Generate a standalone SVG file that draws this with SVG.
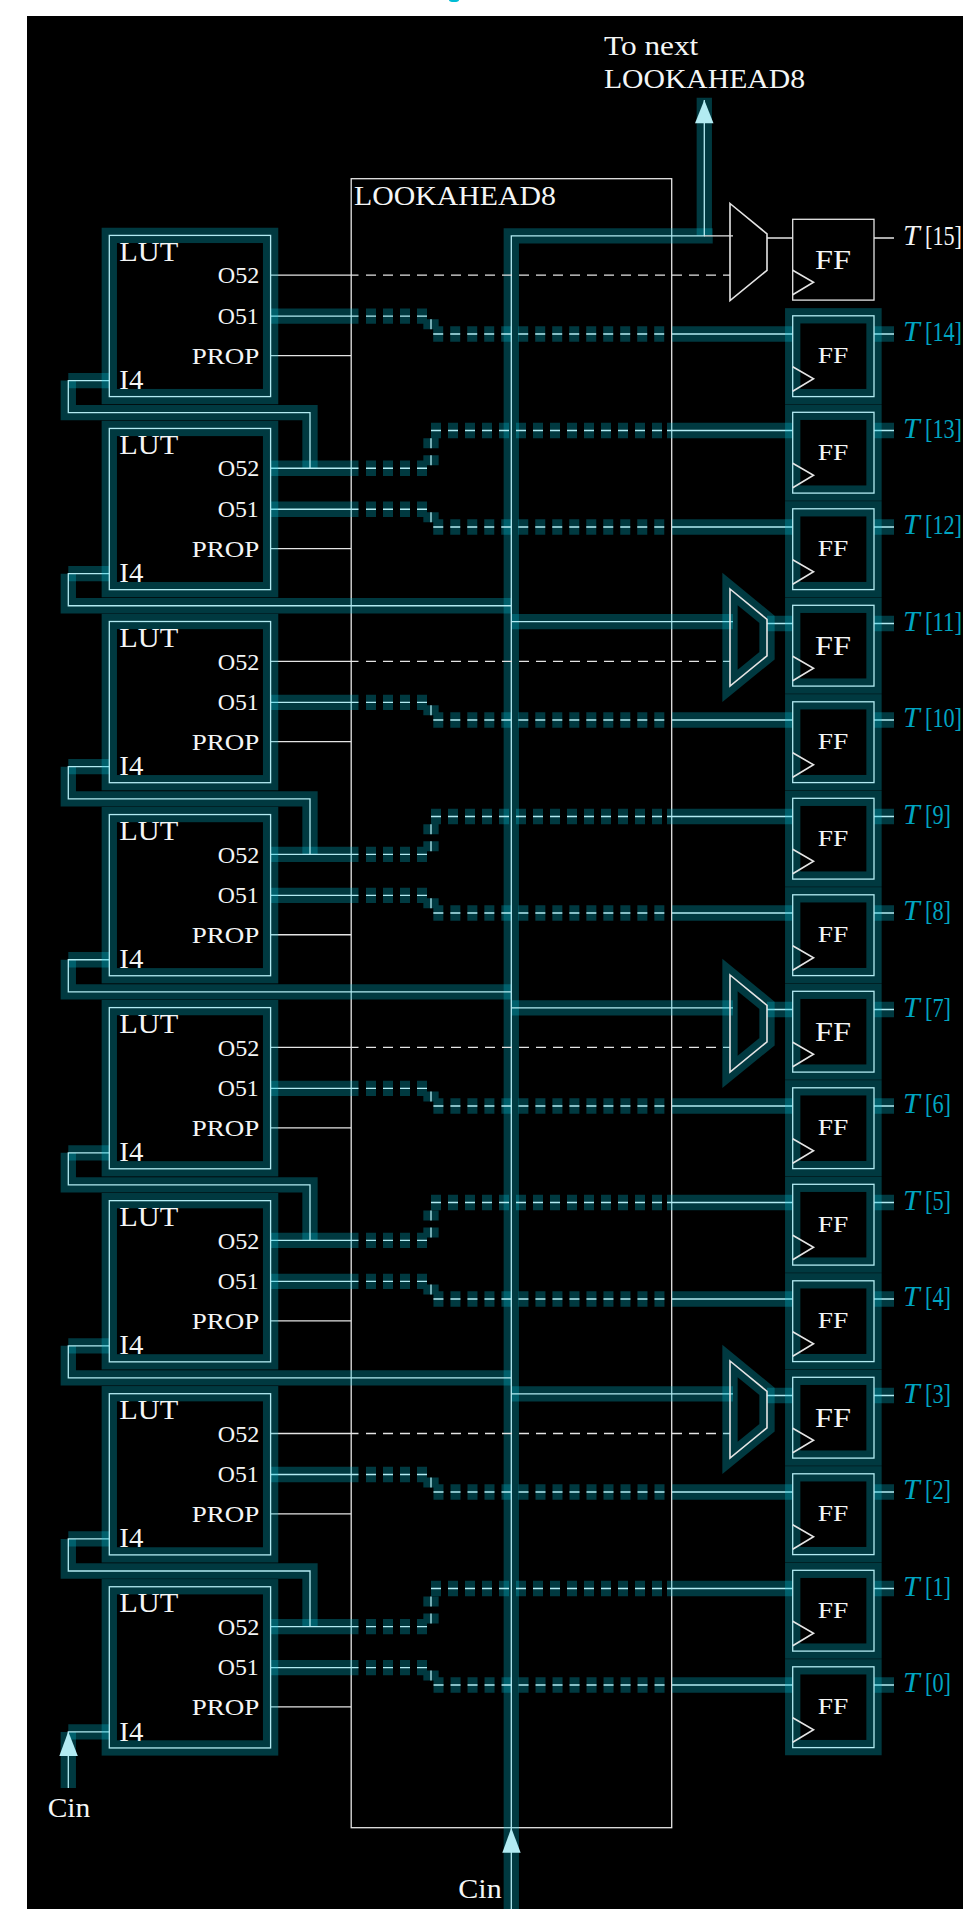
<svg xmlns="http://www.w3.org/2000/svg" width="963" height="1909" viewBox="0 0 963 1909">
<style>
text{font-family:"Liberation Serif","Times New Roman",serif;fill:#f4f6f6;font-size:28px}
.s{font-size:24px}
.c{fill:#00a5c2}
.i{font-style:italic;font-size:30px}
.g{fill:none;stroke:#00bcd4;stroke-opacity:.3;stroke-width:15.3;stroke-linejoin:miter;stroke-miterlimit:10}
.l{fill:none;stroke:#b2ebf2;stroke-width:1.3;stroke-linejoin:miter}
.d{stroke-dasharray:10 7}
.w{fill:none;stroke:#e4e4e4;stroke-width:1.3;stroke-linejoin:miter;stroke-miterlimit:10}
.m{fill:none;stroke:#e4e4e4;stroke-width:1.6;stroke-miterlimit:10}
.a{fill:#b2ebf2;stroke:none}
</style>
<rect x="27" y="16" width="936" height="1893" fill="#000"/>
<ellipse cx="454" cy="0" rx="5" ry="2" fill="#00bcd4"/>

<g id="lookahead">
<rect class="w" x="351.2" y="178.7" width="320.5" height="1649"/>
<text x="354" y="205" textLength="202" lengthAdjust="spacingAndGlyphs">LOOKAHEAD8</text>
</g>

<g id="connectors">
<g id="glow">
<path class="g" d="M511.3,1909V235.8H712.7"/>
<path class="g" d="M704.3,235.8V97.7"/>
<path class="g" d="M109.3,380.6H68.3"/><path class="g" d="M68.3,380.6V412.7H310V468.25"/>
<path class="g" d="M109.3,573.65H68.3"/><path class="g" d="M68.3,573.65V605.75H511"/>
<path class="g" d="M109.3,766.7H68.3"/><path class="g" d="M68.3,766.7V798.8H310V854.35"/>
<path class="g" d="M109.3,959.75H68.3"/><path class="g" d="M68.3,959.75V991.85H511"/>
<path class="g" d="M109.3,1152.8H68.3"/><path class="g" d="M68.3,1152.8V1184.9H310V1240.45"/>
<path class="g" d="M109.3,1345.85H68.3"/><path class="g" d="M68.3,1345.85V1377.95H511"/>
<path class="g" d="M109.3,1538.9H68.3"/><path class="g" d="M68.3,1538.9V1571H310V1626.55"/>
<path class="g" d="M109.3,1731.95H68.3"/><path class="g" d="M68.3,1731.95V1788"/>
<path class="g" d="M511,621.7H733M511,1007.85H733M511,1393.95H733"/>
<path class="g" d="M767,623.5H792.7M767,1009.5H792.7M767,1395.5H792.7"/>
<path class="g" d="M270.6,316.2H358.5M672,334H792.7M874,334H894"/>
<path class="g d" d="M366,316.2H431V334H665"/>
<path class="g" d="M270.6,509.25H358.5M672,527H792.7M874,527H894"/>
<path class="g d" d="M366,509.25H431V527H665"/>
<path class="g" d="M270.6,702.3H358.5M672,720H792.7M874,720H894"/>
<path class="g d" d="M366,702.3H431V720H665"/>
<path class="g" d="M270.6,895.35H358.5M672,913H792.7M874,913H894"/>
<path class="g d" d="M366,895.35H431V913H665"/>
<path class="g" d="M270.6,1088.4H358.5M672,1106H792.7M874,1106H894"/>
<path class="g d" d="M366,1088.4H431V1106H665"/>
<path class="g" d="M270.6,1281.45H358.5M672,1299H792.7M874,1299H894"/>
<path class="g d" d="M366,1281.45H431V1299H665"/>
<path class="g" d="M270.6,1474.5H358.5M672,1492H792.7M874,1492H894"/>
<path class="g d" d="M366,1474.5H431V1492H665"/>
<path class="g" d="M270.6,1667.55H358.5M672,1685H792.7M874,1685H894"/>
<path class="g d" d="M366,1667.55H431V1685H665"/>
<path class="g" d="M270.6,468.25H358.5M667,430.5H792.7M874,430.5H894"/>
<path class="g d" d="M366,468.25H431V433.5M431,430.5H662"/>
<path class="g" d="M270.6,854.35H358.5M667,816.5H792.7M874,816.5H894"/>
<path class="g d" d="M366,854.35H431V819.5M431,816.5H662"/>
<path class="g" d="M270.6,1240.45H358.5M667,1202.5H792.7M874,1202.5H894"/>
<path class="g d" d="M366,1240.45H431V1205.5M431,1202.5H662"/>
<path class="g" d="M270.6,1626.55H358.5M667,1588.5H792.7M874,1588.5H894"/>
<path class="g d" d="M366,1626.55H431V1591.5M431,1588.5H662"/>
<path class="g" d="M874,623.5H894M874,1009.5H894M874,1395.5H894"/>
</g>
<g id="thin">
<path class="l" d="M511.3,1909V235.8H704.3V100"/>
<path class="l" d="M109.3,380.6H68.3V412.7H310V468.25"/>
<path class="l" d="M109.3,573.65H68.3V605.75H511"/>
<path class="l" d="M109.3,766.7H68.3V798.8H310V854.35"/>
<path class="l" d="M109.3,959.75H68.3V991.85H511"/>
<path class="l" d="M109.3,1152.8H68.3V1184.9H310V1240.45"/>
<path class="l" d="M109.3,1345.85H68.3V1377.95H511"/>
<path class="l" d="M109.3,1538.9H68.3V1571H310V1626.55"/>
<path class="l" d="M109.3,1731.95H68.3V1788"/>
<path class="l" d="M511,621.7H733M511,1007.85H733M511,1393.95H733"/>
<path class="l" d="M767,623.5H792.7M767,1009.5H792.7M767,1395.5H792.7"/>
<path class="l" d="M270.6,316.2H358.5M672,334H792.7M874,334H894"/>
<path class="l d" d="M366,316.2H431V334H665"/>
<path class="l" d="M270.6,509.25H358.5M672,527H792.7M874,527H894"/>
<path class="l d" d="M366,509.25H431V527H665"/>
<path class="l" d="M270.6,702.3H358.5M672,720H792.7M874,720H894"/>
<path class="l d" d="M366,702.3H431V720H665"/>
<path class="l" d="M270.6,895.35H358.5M672,913H792.7M874,913H894"/>
<path class="l d" d="M366,895.35H431V913H665"/>
<path class="l" d="M270.6,1088.4H358.5M672,1106H792.7M874,1106H894"/>
<path class="l d" d="M366,1088.4H431V1106H665"/>
<path class="l" d="M270.6,1281.45H358.5M672,1299H792.7M874,1299H894"/>
<path class="l d" d="M366,1281.45H431V1299H665"/>
<path class="l" d="M270.6,1474.5H358.5M672,1492H792.7M874,1492H894"/>
<path class="l d" d="M366,1474.5H431V1492H665"/>
<path class="l" d="M270.6,1667.55H358.5M672,1685H792.7M874,1685H894"/>
<path class="l d" d="M366,1667.55H431V1685H665"/>
<path class="l" d="M270.6,468.25H358.5M667,430.5H792.7M874,430.5H894"/>
<path class="l d" d="M366,468.25H431V433.5M431,430.5H662"/>
<path class="l" d="M270.6,854.35H358.5M667,816.5H792.7M874,816.5H894"/>
<path class="l d" d="M366,854.35H431V819.5M431,816.5H662"/>
<path class="l" d="M270.6,1240.45H358.5M667,1202.5H792.7M874,1202.5H894"/>
<path class="l d" d="M366,1240.45H431V1205.5M431,1202.5H662"/>
<path class="l" d="M270.6,1626.55H358.5M667,1588.5H792.7M874,1588.5H894"/>
<path class="l d" d="M366,1626.55H431V1591.5M431,1588.5H662"/>
<path class="l" d="M874,623.5H894M874,1009.5H894M874,1395.5H894"/>
</g>
<g id="plain">
<path class="w" d="M704.3,235.8H733M767,238H792.7M874,238H894"/>
<path class="w" d="M270.6,355.6H351M270.6,548.65H351M270.6,741.7H351M270.6,934.75H351M270.6,1127.8H351M270.6,1320.85H351M270.6,1513.9H351M270.6,1706.95H351"/>
<path class="w" d="M270.6,275.2H358.5M270.6,661.3H358.5M270.6,1047.4H358.5M270.6,1433.5H358.5"/>
<path class="w d" d="M366,275.2H730M366,661.3H730M366,1047.4H730M366,1433.5H730"/>
</g>
<polygon class="a" points="704.3,100 713.5,123.3 695,123.3"/>
<polygon class="a" points="68.3,1731.5 77.8,1756 59.3,1756"/>
<polygon class="a" points="511.3,1828 520.7,1852.7 502.3,1852.7"/>
</g>

<g id="lut0" transform="translate(109.3,235.4)"><rect class="g" width="161.3" height="161.2"/><rect class="l" width="161.3" height="161.2"/><text x="10" y="25.6" textLength="59" lengthAdjust="spacingAndGlyphs">LUT</text><text class="s" x="108.4" y="48" textLength="41.6" lengthAdjust="spacingAndGlyphs">O52</text><text class="s" x="108.4" y="88.6" textLength="41" lengthAdjust="spacingAndGlyphs">O51</text><text class="s" x="82.4" y="128.2" textLength="67.6" lengthAdjust="spacingAndGlyphs">PROP</text><text x="10" y="153.8" textLength="24" lengthAdjust="spacingAndGlyphs">I4</text></g>
<g id="lut1" transform="translate(109.3,428.45)"><rect class="g" width="161.3" height="161.2"/><rect class="l" width="161.3" height="161.2"/><text x="10" y="25.6" textLength="59" lengthAdjust="spacingAndGlyphs">LUT</text><text class="s" x="108.4" y="48" textLength="41.6" lengthAdjust="spacingAndGlyphs">O52</text><text class="s" x="108.4" y="88.6" textLength="41" lengthAdjust="spacingAndGlyphs">O51</text><text class="s" x="82.4" y="128.2" textLength="67.6" lengthAdjust="spacingAndGlyphs">PROP</text><text x="10" y="153.8" textLength="24" lengthAdjust="spacingAndGlyphs">I4</text></g>
<g id="lut2" transform="translate(109.3,621.5)"><rect class="g" width="161.3" height="161.2"/><rect class="l" width="161.3" height="161.2"/><text x="10" y="25.6" textLength="59" lengthAdjust="spacingAndGlyphs">LUT</text><text class="s" x="108.4" y="48" textLength="41.6" lengthAdjust="spacingAndGlyphs">O52</text><text class="s" x="108.4" y="88.6" textLength="41" lengthAdjust="spacingAndGlyphs">O51</text><text class="s" x="82.4" y="128.2" textLength="67.6" lengthAdjust="spacingAndGlyphs">PROP</text><text x="10" y="153.8" textLength="24" lengthAdjust="spacingAndGlyphs">I4</text></g>
<g id="lut3" transform="translate(109.3,814.55)"><rect class="g" width="161.3" height="161.2"/><rect class="l" width="161.3" height="161.2"/><text x="10" y="25.6" textLength="59" lengthAdjust="spacingAndGlyphs">LUT</text><text class="s" x="108.4" y="48" textLength="41.6" lengthAdjust="spacingAndGlyphs">O52</text><text class="s" x="108.4" y="88.6" textLength="41" lengthAdjust="spacingAndGlyphs">O51</text><text class="s" x="82.4" y="128.2" textLength="67.6" lengthAdjust="spacingAndGlyphs">PROP</text><text x="10" y="153.8" textLength="24" lengthAdjust="spacingAndGlyphs">I4</text></g>
<g id="lut4" transform="translate(109.3,1007.6)"><rect class="g" width="161.3" height="161.2"/><rect class="l" width="161.3" height="161.2"/><text x="10" y="25.6" textLength="59" lengthAdjust="spacingAndGlyphs">LUT</text><text class="s" x="108.4" y="48" textLength="41.6" lengthAdjust="spacingAndGlyphs">O52</text><text class="s" x="108.4" y="88.6" textLength="41" lengthAdjust="spacingAndGlyphs">O51</text><text class="s" x="82.4" y="128.2" textLength="67.6" lengthAdjust="spacingAndGlyphs">PROP</text><text x="10" y="153.8" textLength="24" lengthAdjust="spacingAndGlyphs">I4</text></g>
<g id="lut5" transform="translate(109.3,1200.65)"><rect class="g" width="161.3" height="161.2"/><rect class="l" width="161.3" height="161.2"/><text x="10" y="25.6" textLength="59" lengthAdjust="spacingAndGlyphs">LUT</text><text class="s" x="108.4" y="48" textLength="41.6" lengthAdjust="spacingAndGlyphs">O52</text><text class="s" x="108.4" y="88.6" textLength="41" lengthAdjust="spacingAndGlyphs">O51</text><text class="s" x="82.4" y="128.2" textLength="67.6" lengthAdjust="spacingAndGlyphs">PROP</text><text x="10" y="153.8" textLength="24" lengthAdjust="spacingAndGlyphs">I4</text></g>
<g id="lut6" transform="translate(109.3,1393.7)"><rect class="g" width="161.3" height="161.2"/><rect class="l" width="161.3" height="161.2"/><text x="10" y="25.6" textLength="59" lengthAdjust="spacingAndGlyphs">LUT</text><text class="s" x="108.4" y="48" textLength="41.6" lengthAdjust="spacingAndGlyphs">O52</text><text class="s" x="108.4" y="88.6" textLength="41" lengthAdjust="spacingAndGlyphs">O51</text><text class="s" x="82.4" y="128.2" textLength="67.6" lengthAdjust="spacingAndGlyphs">PROP</text><text x="10" y="153.8" textLength="24" lengthAdjust="spacingAndGlyphs">I4</text></g>
<g id="lut7" transform="translate(109.3,1586.75)"><rect class="g" width="161.3" height="161.2"/><rect class="l" width="161.3" height="161.2"/><text x="10" y="25.6" textLength="59" lengthAdjust="spacingAndGlyphs">LUT</text><text class="s" x="108.4" y="48" textLength="41.6" lengthAdjust="spacingAndGlyphs">O52</text><text class="s" x="108.4" y="88.6" textLength="41" lengthAdjust="spacingAndGlyphs">O51</text><text class="s" x="82.4" y="128.2" textLength="67.6" lengthAdjust="spacingAndGlyphs">PROP</text><text x="10" y="153.8" textLength="24" lengthAdjust="spacingAndGlyphs">I4</text></g>

<g id="mux15"><polygon class="m" points="730,203.5 767,233.8 767,270.3 730,300.5"/></g>
<g id="mux11"><polygon class="g" points="730,589 767,619.3 767,655.8 730,686"/><polygon class="m" points="730,589 767,619.3 767,655.8 730,686"/></g>
<g id="mux7"><polygon class="g" points="730,975 767,1005.3 767,1041.8 730,1072"/><polygon class="m" points="730,975 767,1005.3 767,1041.8 730,1072"/></g>
<g id="mux3"><polygon class="g" points="730,1361 767,1391.3 767,1427.8 730,1458"/><polygon class="m" points="730,1361 767,1391.3 767,1427.8 730,1458"/></g>

<g id="ff15" transform="translate(792.7,219.3)"><rect class="w" width="81.3" height="80.8"/><path class="m" d="M0,51L20.8,63L0,75.5"/><text x="22.3" y="49.7" textLength="36" lengthAdjust="spacingAndGlyphs">FF</text></g>
<g id="ff14" transform="translate(792.7,315.8)"><rect class="g" width="81.3" height="80.8"/><rect class="l" width="81.3" height="80.8"/><path class="m" d="M0,51L20.8,63L0,75.5"/><text class="s" x="25" y="47.7" textLength="30.6" lengthAdjust="spacingAndGlyphs">FF</text></g>
<g id="ff13" transform="translate(792.7,412.3)"><rect class="g" width="81.3" height="80.8"/><rect class="l" width="81.3" height="80.8"/><path class="m" d="M0,51L20.8,63L0,75.5"/><text class="s" x="25" y="47.7" textLength="30.6" lengthAdjust="spacingAndGlyphs">FF</text></g>
<g id="ff12" transform="translate(792.7,508.8)"><rect class="g" width="81.3" height="80.8"/><rect class="l" width="81.3" height="80.8"/><path class="m" d="M0,51L20.8,63L0,75.5"/><text class="s" x="25" y="47.7" textLength="30.6" lengthAdjust="spacingAndGlyphs">FF</text></g>
<g id="ff11" transform="translate(792.7,605.3)"><rect class="g" width="81.3" height="80.8"/><rect class="l" width="81.3" height="80.8"/><path class="m" d="M0,51L20.8,63L0,75.5"/><text x="22.3" y="49.7" textLength="36" lengthAdjust="spacingAndGlyphs">FF</text></g>
<g id="ff10" transform="translate(792.7,701.8)"><rect class="g" width="81.3" height="80.8"/><rect class="l" width="81.3" height="80.8"/><path class="m" d="M0,51L20.8,63L0,75.5"/><text class="s" x="25" y="47.7" textLength="30.6" lengthAdjust="spacingAndGlyphs">FF</text></g>
<g id="ff9" transform="translate(792.7,798.3)"><rect class="g" width="81.3" height="80.8"/><rect class="l" width="81.3" height="80.8"/><path class="m" d="M0,51L20.8,63L0,75.5"/><text class="s" x="25" y="47.7" textLength="30.6" lengthAdjust="spacingAndGlyphs">FF</text></g>
<g id="ff8" transform="translate(792.7,894.8)"><rect class="g" width="81.3" height="80.8"/><rect class="l" width="81.3" height="80.8"/><path class="m" d="M0,51L20.8,63L0,75.5"/><text class="s" x="25" y="47.7" textLength="30.6" lengthAdjust="spacingAndGlyphs">FF</text></g>
<g id="ff7" transform="translate(792.7,991.3)"><rect class="g" width="81.3" height="80.8"/><rect class="l" width="81.3" height="80.8"/><path class="m" d="M0,51L20.8,63L0,75.5"/><text x="22.3" y="49.7" textLength="36" lengthAdjust="spacingAndGlyphs">FF</text></g>
<g id="ff6" transform="translate(792.7,1087.8)"><rect class="g" width="81.3" height="80.8"/><rect class="l" width="81.3" height="80.8"/><path class="m" d="M0,51L20.8,63L0,75.5"/><text class="s" x="25" y="47.7" textLength="30.6" lengthAdjust="spacingAndGlyphs">FF</text></g>
<g id="ff5" transform="translate(792.7,1184.3)"><rect class="g" width="81.3" height="80.8"/><rect class="l" width="81.3" height="80.8"/><path class="m" d="M0,51L20.8,63L0,75.5"/><text class="s" x="25" y="47.7" textLength="30.6" lengthAdjust="spacingAndGlyphs">FF</text></g>
<g id="ff4" transform="translate(792.7,1280.8)"><rect class="g" width="81.3" height="80.8"/><rect class="l" width="81.3" height="80.8"/><path class="m" d="M0,51L20.8,63L0,75.5"/><text class="s" x="25" y="47.7" textLength="30.6" lengthAdjust="spacingAndGlyphs">FF</text></g>
<g id="ff3" transform="translate(792.7,1377.3)"><rect class="g" width="81.3" height="80.8"/><rect class="l" width="81.3" height="80.8"/><path class="m" d="M0,51L20.8,63L0,75.5"/><text x="22.3" y="49.7" textLength="36" lengthAdjust="spacingAndGlyphs">FF</text></g>
<g id="ff2" transform="translate(792.7,1473.8)"><rect class="g" width="81.3" height="80.8"/><rect class="l" width="81.3" height="80.8"/><path class="m" d="M0,51L20.8,63L0,75.5"/><text class="s" x="25" y="47.7" textLength="30.6" lengthAdjust="spacingAndGlyphs">FF</text></g>
<g id="ff1" transform="translate(792.7,1570.3)"><rect class="g" width="81.3" height="80.8"/><rect class="l" width="81.3" height="80.8"/><path class="m" d="M0,51L20.8,63L0,75.5"/><text class="s" x="25" y="47.7" textLength="30.6" lengthAdjust="spacingAndGlyphs">FF</text></g>
<g id="ff0" transform="translate(792.7,1666.8)"><rect class="g" width="81.3" height="80.8"/><rect class="l" width="81.3" height="80.8"/><path class="m" d="M0,51L20.8,63L0,75.5"/><text class="s" x="25" y="47.7" textLength="30.6" lengthAdjust="spacingAndGlyphs">FF</text></g>

<g id="labels">
<text x="604" y="55" textLength="94.3" lengthAdjust="spacingAndGlyphs">To next</text>
<text x="604" y="88.3" textLength="201" lengthAdjust="spacingAndGlyphs">LOOKAHEAD8</text>
<text x="47.7" y="1816.7" textLength="42.6" lengthAdjust="spacingAndGlyphs">Cin</text>
<text x="458.3" y="1898.3" textLength="43.4" lengthAdjust="spacingAndGlyphs">Cin</text>
<text class="i" x="903" y="245">T</text><text x="925" y="245" textLength="37" lengthAdjust="spacingAndGlyphs">[15]</text>
<text class="i c" x="903" y="341">T</text><text class="c" x="925" y="341" textLength="37" lengthAdjust="spacingAndGlyphs">[14]</text>
<text class="i c" x="903" y="437.5">T</text><text class="c" x="925" y="437.5" textLength="37" lengthAdjust="spacingAndGlyphs">[13]</text>
<text class="i c" x="903" y="534">T</text><text class="c" x="925" y="534" textLength="37" lengthAdjust="spacingAndGlyphs">[12]</text>
<text class="i c" x="903" y="630.5">T</text><text class="c" x="925" y="630.5" textLength="37" lengthAdjust="spacingAndGlyphs">[11]</text>
<text class="i c" x="903" y="727">T</text><text class="c" x="925" y="727" textLength="37" lengthAdjust="spacingAndGlyphs">[10]</text>
<text class="i c" x="903" y="823.5">T</text><text class="c" x="925" y="823.5" textLength="26" lengthAdjust="spacingAndGlyphs">[9]</text>
<text class="i c" x="903" y="920">T</text><text class="c" x="925" y="920" textLength="26" lengthAdjust="spacingAndGlyphs">[8]</text>
<text class="i c" x="903" y="1016.5">T</text><text class="c" x="925" y="1016.5" textLength="26" lengthAdjust="spacingAndGlyphs">[7]</text>
<text class="i c" x="903" y="1113">T</text><text class="c" x="925" y="1113" textLength="26" lengthAdjust="spacingAndGlyphs">[6]</text>
<text class="i c" x="903" y="1209.5">T</text><text class="c" x="925" y="1209.5" textLength="26" lengthAdjust="spacingAndGlyphs">[5]</text>
<text class="i c" x="903" y="1306">T</text><text class="c" x="925" y="1306" textLength="26" lengthAdjust="spacingAndGlyphs">[4]</text>
<text class="i c" x="903" y="1402.5">T</text><text class="c" x="925" y="1402.5" textLength="26" lengthAdjust="spacingAndGlyphs">[3]</text>
<text class="i c" x="903" y="1499">T</text><text class="c" x="925" y="1499" textLength="26" lengthAdjust="spacingAndGlyphs">[2]</text>
<text class="i c" x="903" y="1595.5">T</text><text class="c" x="925" y="1595.5" textLength="26" lengthAdjust="spacingAndGlyphs">[1]</text>
<text class="i c" x="903" y="1692">T</text><text class="c" x="925" y="1692" textLength="26" lengthAdjust="spacingAndGlyphs">[0]</text>
</g>
</svg>
